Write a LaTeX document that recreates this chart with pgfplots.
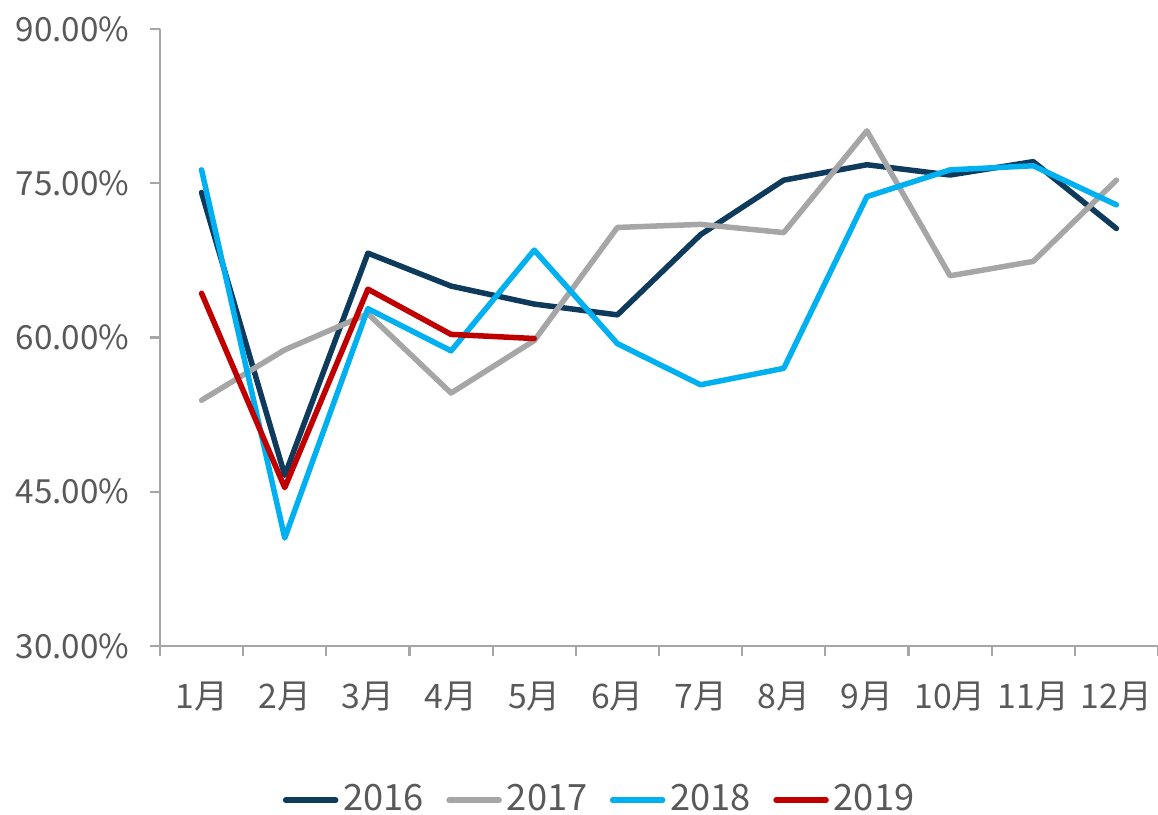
\documentclass[border=0pt]{standalone}
\usepackage{pgfplots}
\pgfplotsset{compat=1.18}
\usepackage{fontspec}
\setmainfont{Noto Sans CJK SC}

\definecolor{c2016}{HTML}{0E3A5C}
\definecolor{c2017}{HTML}{A6A6A6}
\definecolor{c2018}{HTML}{00B0F0}
\definecolor{c2019}{HTML}{C00000}
\definecolor{txt}{HTML}{595959}
\definecolor{axc}{HTML}{A6A6A6}

\begin{document}
\begin{tikzpicture}
  \fontsize{13.5}{16}\selectfont
  \begin{axis}[
      scale only axis,
      width=399.2pt, height=246.8pt,
      xmin=0.5, xmax=12.5,
      ymin=30, ymax=90,
      axis x line*=bottom,
      axis y line*=left,
      axis line style={draw=axc, line width=0.9pt},
      xtick={1,...,12},
      xticklabels={1月,2月,3月,4月,5月,6月,7月,8月,9月,10月,11月,12月},
      minor xtick={0.5,1.5,...,12.5},
      major x tick style={draw=none},
      minor x tick style={draw=axc, line width=0.9pt},
      minor tick length=4pt,
      xtick align=outside,
      ytick={30,45,60,75,90},
      yticklabels={30.00\%,45.00\%,60.00\%,75.00\%,90.00\%},
      ytick align=outside,
      major tick length=4pt,
      major y tick style={draw=axc, line width=0.9pt},
      yticklabel style={font=\fontsize{13.3}{16}\selectfont\color{txt}, xshift=-3.5pt},
      xticklabel style={font=\fontsize{13.5}{16}\selectfont\color{txt}, yshift=-5.8pt},
      clip=false,
      legend style={
          at={(0.442,-0.25)}, anchor=center,
          draw=none, fill=none,
          legend columns=-1,
          font=\fontsize{14.5}{17}\selectfont\color{txt},
          /tikz/every even column/.append style={column sep=7pt},
          inner sep=0pt,
      },
      legend image code/.code={
          \draw[#1, line width=2.2pt, line cap=round] (0pt,0pt) -- (20pt,0pt);
      },
      every axis plot/.append style={line width=2.2pt, line join=round, line cap=round},
    ]
    \addplot[c2016] coordinates {
      (1,74.1) (2,46.6) (3,68.2) (4,65.0) (5,63.25) (6,62.2)
      (7,70.0) (8,75.3) (9,76.8) (10,75.8) (11,77.1) (12,70.6)
    };
    \addplot[c2017] coordinates {
      (1,53.9) (2,58.8) (3,62.3) (4,54.6) (5,59.7) (6,70.7)
      (7,71.0) (8,70.2) (9,80.1) (10,66.0) (11,67.4) (12,75.3)
    };
    \addplot[c2018] coordinates {
      (1,76.3) (2,40.5) (3,62.8) (4,58.7) (5,68.5) (6,59.4)
      (7,55.4) (8,57.0) (9,73.7) (10,76.3) (11,76.7) (12,72.9)
    };
    \addplot[c2019] coordinates {
      (1,64.3) (2,45.4) (3,64.7) (4,60.3) (5,59.9)
    };
    \legend{2016,2017,2018,2019}
  \end{axis}
  \pgfresetboundingbox
  \path[use as bounding box] ([xshift=-64pt,yshift=-67.6pt]current axis.south west)
      rectangle ([xshift=399.2pt,yshift=11.6pt]current axis.north west);
\end{tikzpicture}
\end{document}
